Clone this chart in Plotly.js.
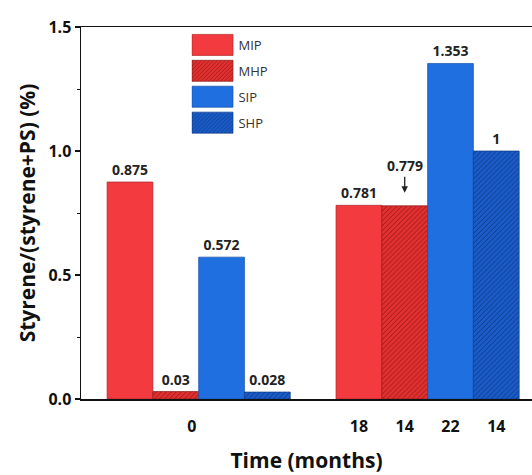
<!DOCTYPE html>
<html><head><meta charset="utf-8">
<script src="https://cdn.plot.ly/plotly-3.0.1.min.js"></script>
<style>html,body{margin:0;padding:0;background:#fff}</style>
</head><body><div id="chart" style="width:532px;height:475px"></div>
<script>
var series = ['MIP','MHP','SIP','SHP'];
var valsMonth0 = [0.875, 0.03, 0.572, 0.028];
var valsLater = [0.781, 0.779, 1.353, 1];
var laterLabels = ['18','14','22','14'];
var firstLabel = '0';
var xTitle = 'Time (months)';
var yTitle = 'Styrene/(styrene+PS) (%)';

var fills = ['#f23a3f','#e0302f','#1f6fe0','#1a5bc6'];
var lines = ['#b02428','#8a1a1a','#174fa8','#0e3a86'];
var hatch = [false,true,false,true];
var hatchFg = [null,'#981818',null,'#0e3888'];
var g1 = 1, g2 = 6;
var arrowIdx = 1; // the later MHP label drawn with an arrow
var labelFont = {family:'Open Sans', size:14, color:'#222', weight:'bold'};

var traces = series.map(function(name,i){
  var vals = [valsMonth0[i], valsLater[i]];
  var txt = vals.map(function(v,j){ return (j===1 && i===arrowIdx) ? '' : String(v); });
  var m = {color: fills[i], line:{color: lines[i], width:0.7}};
  if (hatch[i]) m.pattern = {shape:'/', fgcolor: hatchFg[i], bgcolor: fills[i], size:3.5, solidity:0.25};
  return {type:'bar', name:name, legendgroup:'g'+i, x:[g1+i, g2+i], y:vals, width:[1,1], marker:m,
    text:txt, textposition:'outside', cliponaxis:false, constraintext:'none',
    textfont:labelFont, hoverinfo:'none'};
});

var layout = {
  width:532, height:475,
  margin:{l:81, r:0, t:27, b:76},
  paper_bgcolor:'#fff', plot_bgcolor:'#fff',
  barmode:'overlay', bargap:0,
  font:{family:'Open Sans', color:'#111'},
  showlegend:true,
  legend:{x:0.245, y:0.992, xanchor:'left', yanchor:'top', bgcolor:'rgba(0,0,0,0)',
    font:{family:'Open Sans', size:13, color:'#333'}, tracegroupgap:6, itemwidth:37},
  xaxis:{range:[-0.07, 9.78], showgrid:false, zeroline:false, showline:true, mirror:true,
    linecolor:'#111', linewidth:1.5, ticks:'outside', ticklen:12, tickcolor:'rgba(0,0,0,0)',
    tickvals:[g1+1.35, g2, g2+1, g2+2, g2+3], ticktext:[firstLabel].concat(laterLabels),
    tickfont:{family:'Open Sans', size:16, color:'#111', weight:'bold'},
    title:{text:xTitle, font:{family:'Open Sans', size:21, color:'#111', weight:'bold'}, standoff:17}},
  yaxis:{range:[0,1.5], showgrid:false, zeroline:false, showline:true, mirror:false,
    linecolor:'#111', linewidth:1.5, ticks:'outside', ticklen:5, tickwidth:1.2, tickcolor:'#111',
    tickvals:[0,0.5,1,1.5], tickformat:'.1f',
    minor:{tickvals:[0.25,0.75,1.25], ticks:'outside', ticklen:3, tickcolor:'#111', tickwidth:1},
    tickfont:{family:'Open Sans', size:16, color:'#111', weight:'bold'},
    title:{text:yTitle, font:{family:'Open Sans', size:21, color:'#111', weight:'bold'}, standoff:7}},
  annotations:[{x:g2+arrowIdx, y:valsLater[arrowIdx], xref:'x', yref:'y', text:String(valsLater[arrowIdx]),
    showarrow:true, ax:0, ay:-40, arrowhead:2, arrowsize:1, arrowwidth:1.3, arrowcolor:'#222', standoff:13,
    font:labelFont}]
};
Plotly.newPlot('chart', traces, layout, {displayModeBar:false, staticPlot:true}).then(function(){
  document.querySelectorAll('#chart .legend .legendpoints path').forEach(function(p){
    p.setAttribute('d','M18,10.5H-23V-10.5H18Z');
  });
});
</script></body></html>
